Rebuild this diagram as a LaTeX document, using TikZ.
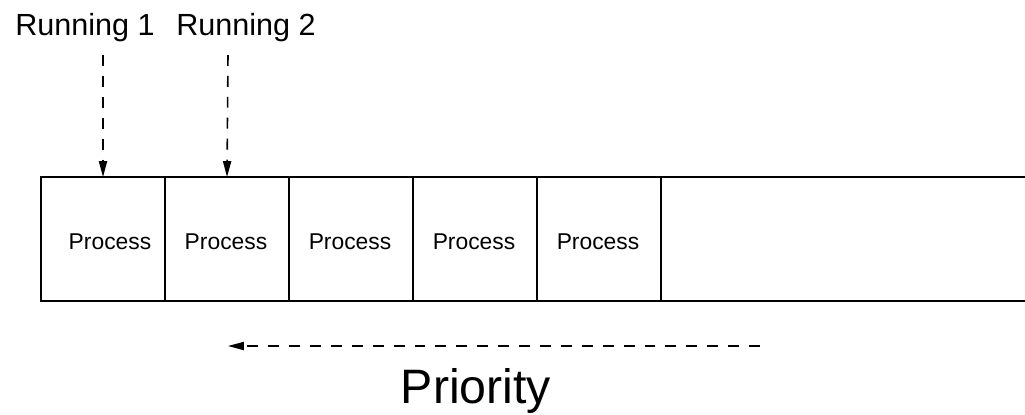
\documentclass[tikz,border=0pt]{standalone}
\usepackage{fontspec}
\setmainfont{Liberation Sans}
\usetikzlibrary{arrows.meta}
\tikzstyle{cell} = [draw,rectangle,minimum width=2.48cm,minimum height=2.48cm,inner sep=0pt,outer sep=0pt,line width=1.1pt]
\tikzstyle{boxline} = [line width=1.1pt]
\tikzstyle{proc} = [anchor=base,inner sep=0pt,font=\fontsize{13}{15}\selectfont]
\tikzstyle{runlabel} = [anchor=base,inner sep=0pt,font=\fontsize{17.4}{20}\selectfont]
\tikzstyle{ptr} = [-{Triangle[length=9pt,width=4.6pt]},dash pattern=on 6.2pt off 5.7pt,line width=0.9pt]

\begin{document}
\begin{tikzpicture}[x=0.02cm,y=-0.02cm]
		\useasboundingbox (0,0) rectangle (1025,414);

		\node[runlabel] (run1) at (85,35) {Running 1};
		\node[runlabel] (run2) at (246,35) {Running 2};

		\foreach \i in {1,...,5}
			\node[cell] (c\i) at ({103+124*(\i-1)},239) {};
		% last slot is open to the right
		\draw[boxline] (c5.north east) -- (1025,177);
		\draw[boxline] (c5.south east) -- (1025,301);

		\foreach \i/\x in {1/110,2/226,3/350,4/474,5/598}
			\node[proc] (t\i) at (\x,249) {Process};

		\coordinate (r1) at (103,55);
		\coordinate (r2) at (228,55);
		\draw[ptr] (r1) -- (c1.north); \draw[ptr] (r2) -- (c2.north);

		\coordinate (prtail) at (760,346);
		\coordinate (prhead) at (228,346);
		\draw[ptr] (prtail) -- (prhead);
		\node[anchor=base,inner sep=0pt,font=\fontsize{27.5}{32}\selectfont] (prio) at (476,403) {Priority};
	\end{tikzpicture}
\end{document}
